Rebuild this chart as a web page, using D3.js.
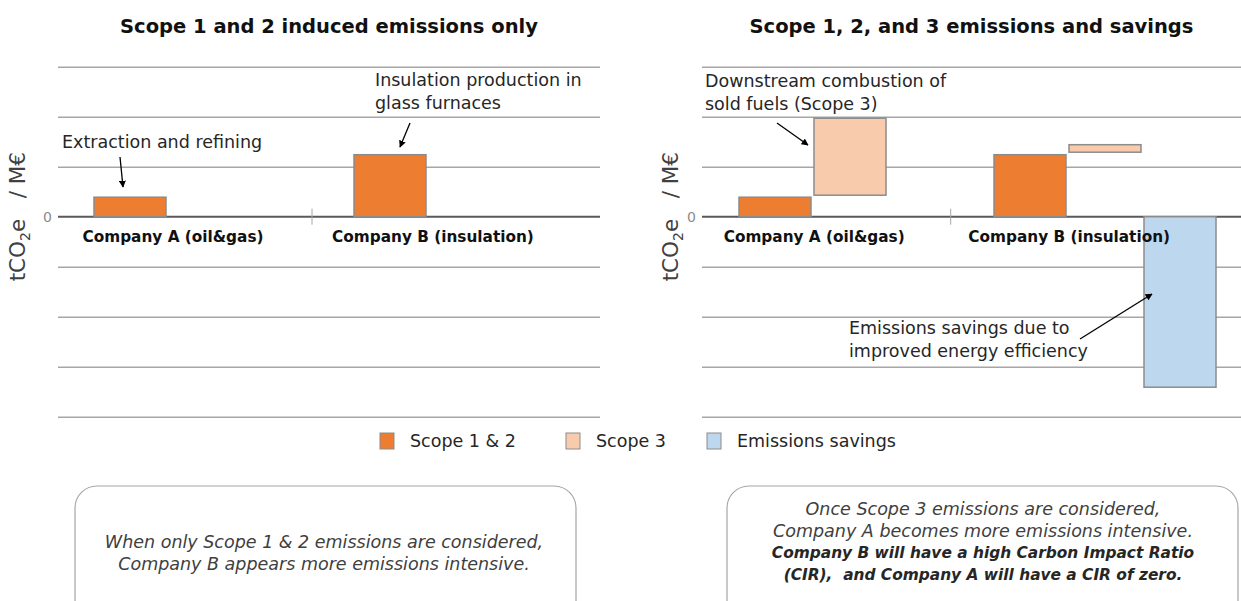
<!DOCTYPE html>
<html>
<head>
<meta charset="utf-8">
<script src="https://cdn.jsdelivr.net/npm/d3@7"></script>
<style>
  body { margin: 0; background: #fff; }
  svg { display: block; font-family: "DejaVu Sans", sans-serif; }
</style>
</head>
<body>
<div id="chart"></div>
<script>
// data (tCO2e / M€, arbitrary units of one gridline)
const companies = ["Company A (oil&gas)", "Company B (insulation)"]
const series = ["Scope 1 & 2", "Scope 3", "Emissions savings"]
const scope12 = [0.39, 1.24]
const scope3Low = [0.43, 1.29]
const scope3High = [1.97, 1.44]
const savings = [0, -3.41]
const yTicks = [-4, -3, -2, -1, 0, 1, 2, 3]

const colors = ["#ED7D31", "#F8CBAD", "#BDD7EE"]
const width = 1241, height = 601

const svg = d3.select("#chart").append("svg")
  .attr("width", width)
  .attr("height", height)

svg.append("defs").append("marker")
  .attr("id", "arrow")
  .attr("viewBox", "0 0 10 10")
  .attr("refX", 9).attr("refY", 5)
  .attr("markerWidth", 7).attr("markerHeight", 7)
  .attr("markerUnits", "userSpaceOnUse")
  .attr("orient", "auto")
  .append("path")
  .attr("d", "M0,0 L10,5 L0,10 z")
  .attr("fill", "#000")

const y = d3.scaleLinear().domain([-4, 3]).range([416.7, 66.7])

const panels = [
  {
    title: "Scope 1 and 2 induced emissions only",
    x0: 58, x1: 600, band: [52, 572], offset: 42, labelX: 17,
    full: false,
    notes: [
      { lines: ["Extraction and refining"], x: 62, y: 148 },
      { lines: ["Insulation production in", "glass furnaces"], x: 375, y: 86 }
    ],
    arrows: [[120, 157, 123, 187], [410, 123, 400, 147]]
  },
  {
    title: "Scope 1, 2, and 3 emissions and savings",
    x0: 702, x1: 1241, band: [695.7, 1205.7], offset: 43.3, labelX: 670,
    full: true,
    notes: [
      { lines: ["Downstream combustion of", "sold fuels (Scope 3)"], x: 705, y: 87 },
      { lines: ["Emissions savings due to", "improved energy efficiency"], x: 849, y: 334 }
    ],
    arrows: [[777, 123, 808, 145], [1080, 339, 1152, 294]]
  }
]

panels.forEach(p => {
  const g = svg.append("g")
  const x = d3.scaleBand().domain(companies).range(p.band)
  const sub = d3.scaleBand().domain(series).range([p.offset, p.offset + 222]).paddingInner(0.04)

  // title
  g.append("text")
    .attr("x", (p.x0 + p.x1) / 2)
    .attr("y", 33)
    .attr("text-anchor", "middle")
    .style("font-weight", "bold")
    .style("font-size", "19.5px")
    .attr("fill", "#111")
    .text(p.title)

  // grid lines
  g.append("g")
    .attr("transform", `translate(${p.x0},0)`)
    .call(d3.axisLeft(y).tickValues(yTicks.filter(t => t !== 0)).tickSize(-(p.x1 - p.x0)).tickFormat(""))
    .call(a => a.select(".domain").remove())
    .selectAll("line")
    .attr("stroke", "#A6A6A6")
    .attr("stroke-width", 1.5)

  // zero line + divider tick
  g.append("line")
    .attr("x1", p.x0).attr("x2", p.x1)
    .attr("y1", y(0)).attr("y2", y(0))
    .attr("stroke", "#595959").attr("stroke-width", 2)
  g.append("line")
    .attr("x1", x(companies[1])).attr("x2", x(companies[1]))
    .attr("y1", y(0) - 8).attr("y2", y(0) + 8)
    .attr("stroke", "#A6A6A6").attr("stroke-width", 1)

  g.append("text")
    .attr("x", p.x0 - 6)
    .attr("y", y(0))
    .attr("dy", "0.35em")
    .attr("text-anchor", "end")
    .style("font-size", "14px")
    .attr("fill", "#8c8c8c")
    .text("0")

  // y label
  const yl = g.append("text")
    .attr("transform", `translate(${p.labelX},${y(0)}) rotate(-90)`)
    .attr("text-anchor", "middle")
    .attr("dy", "0.35em")
    .style("font-size", "21.5px")
    .style("white-space", "pre")
    .attr("fill", "#404040")
  yl.append("tspan").text("tCO")
  yl.append("tspan").attr("dy", "5").style("font-size", "14px").text("2")
  yl.append("tspan").attr("dy", "-5").text("e   / M€")

  // bars
  const bars = []
  companies.forEach((c, i) => {
    bars.push({ c: c, s: 0, lo: 0, hi: scope12[i] })
    if (p.full) {
      bars.push({ c: c, s: 1, lo: scope3Low[i], hi: scope3High[i] })
      if (savings[i] !== 0) bars.push({ c: c, s: 2, lo: savings[i], hi: 0 })
    }
  })
  g.selectAll(".bar")
    .data(bars)
    .join("rect")
    .attr("class", "bar")
    .attr("x", d => x(d.c) + sub(series[d.s]))
    .attr("width", sub.bandwidth())
    .attr("y", d => y(d.hi))
    .attr("height", d => y(d.lo) - y(d.hi))
    .attr("fill", d => colors[d.s])
    .attr("stroke", "#8c8c8c")
    .attr("stroke-width", 1.5)

  // category labels (drawn over the bars)
  g.selectAll(".cat")
    .data(companies)
    .join("text")
    .attr("class", "cat")
    .attr("x", d => x(d) + x.bandwidth() / 2 - 9)
    .attr("y", 242)
    .attr("text-anchor", "middle")
    .style("font-weight", "bold")
    .style("font-size", "15.3px")
    .attr("fill", "#111")
    .text(d => d)

  // annotations
  p.notes.forEach(n => {
    const t = g.append("text")
      .style("font-size", "17.5px")
      .attr("fill", "#262626")
    n.lines.forEach((l, k) => {
      t.append("tspan").attr("x", n.x).attr("y", n.y + k * 22.5).text(l)
    })
  })
  p.arrows.forEach(a => {
    g.append("line")
      .attr("x1", a[0]).attr("y1", a[1]).attr("x2", a[2]).attr("y2", a[3])
      .attr("stroke", "#000").attr("stroke-width", 1.3)
      .attr("marker-end", "url(#arrow)")
  })
})

// legend
const legendX = [380, 566, 707]
const lg = svg.append("g").selectAll("g")
  .data(series)
  .join("g")
  .attr("transform", (d, i) => `translate(${legendX[i]},433)`)
lg.append("rect")
  .attr("width", 14).attr("height", 16)
  .attr("fill", (d, i) => colors[i])
  .attr("stroke", "#8c8c8c").attr("stroke-width", 1)
lg.append("text")
  .attr("x", 30).attr("y", 14)
  .style("font-size", "17.5px")
  .attr("fill", "#262626")
  .text(d => d)

// note boxes
const boxes = [
  { x: 75, w: 501, cx: 324, y: 548, lines: [
    ["When only Scope 1 & 2 emissions are considered,", false],
    ["Company B appears more emissions intensive.", false]] },
  { x: 727, w: 511, cx: 983, y: 515, lines: [
    ["Once Scope 3 emissions are considered,", false],
    ["Company A becomes more emissions intensive.", false],
    ["Company B will have a high Carbon Impact Ratio", true],
    ["(CIR),  and Company A will have a CIR of zero.", true]] }
]
boxes.forEach(b => {
  svg.append("rect")
    .attr("x", b.x).attr("y", 486)
    .attr("width", b.w).attr("height", 140)
    .attr("rx", 22)
    .attr("fill", "none")
    .attr("stroke", "#A6A6A6").attr("stroke-width", 1.2)
  const t = svg.append("text")
    .attr("text-anchor", "middle")
    .style("font-style", "italic")
    .style("white-space", "pre")
  b.lines.forEach((l, k) => {
    t.append("tspan")
      .attr("x", b.cx).attr("y", b.y + k * 21.5)
      .style("font-weight", l[1] ? "bold" : "normal")
      .style("font-size", l[1] ? "15.4px" : "17.5px")
      .attr("fill", l[1] ? "#262626" : "#404040")
      .text(l[0])
  })
})
</script>
</body>
</html>
